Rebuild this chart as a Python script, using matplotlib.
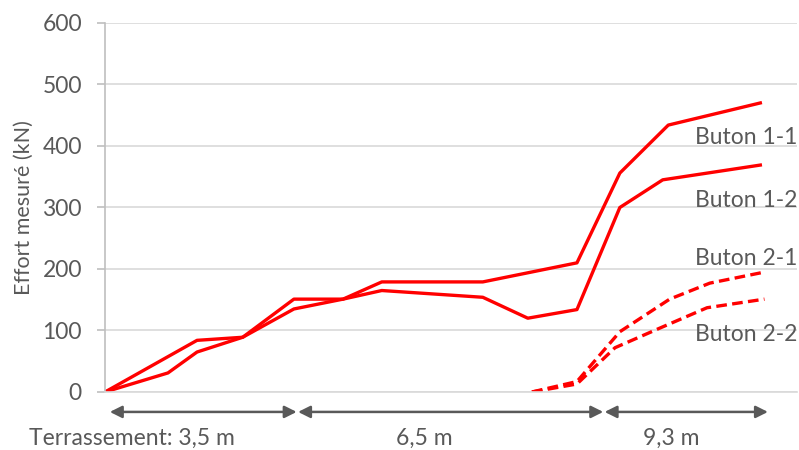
import matplotlib.pyplot as plt

# time axis (arbitrary units, 0-100) and measured forces (kN)
x_b11 = [0, 13.3, 19.9, 27.3, 34.4, 40.0, 54.6, 68.2, 74.4, 81.4, 94.7]
y_b11 = [0, 84, 89, 151, 151, 179, 179, 210, 356, 434, 470]

x_b12 = [0, 9.1, 13.3, 19.9, 27.3, 34.4, 40.0, 54.6, 61.1, 68.2, 74.4, 80.6, 94.7]
y_b12 = [0, 31, 65, 89, 135, 151, 165, 154, 120, 134, 300, 345, 369]

x_b21 = [61.7, 68.2, 74.4, 81.6, 87.4, 95.3]
y_b21 = [0, 17, 98, 151, 177, 195]

x_b22 = [61.7, 68.2, 73.7, 80.2, 87.0, 95.3]
y_b22 = [0, 13, 72, 104, 137, 151]

labels = ['Buton 1-1', 'Buton 1-2', 'Buton 2-1', 'Buton 2-2']
label_y = [413, 312, 217, 94]

stages = ['Terrassement: 3,5 m', '6,5 m', '9,3 m']
stage_start = [0.7, 27.9, 72.2]
stage_end = [27.7, 72.0, 95.8]
stage_text_x = [3.9, 46.2, 81.8]

grey = '#595959'
red = '#ff0000'

plt.rcParams['font.family'] = ['Lato', 'DejaVu Sans']

fig = plt.figure(figsize=(7.99, 4.5), dpi=100)
ax = fig.add_axes([0.1314, 0.1289, 0.8661, 0.82])

ax.plot(x_b11, y_b11, color=red, lw=2.4)
ax.plot(x_b12, y_b12, color=red, lw=2.4)
ax.plot(x_b21, y_b21, color=red, lw=2.4, dashes=(3.2, 1.6))
ax.plot(x_b22, y_b22, color=red, lw=2.4, dashes=(3.2, 1.6))

for lab, ly in zip(labels, label_y):
    ax.text(100, ly, lab, ha='right', va='center', fontsize=16.5, color=grey)

ax.set_xlim(0, 100)
ax.set_ylim(0, 600)
ax.set_yticks(range(0, 601, 100))
ax.set_xticks([])
ax.yaxis.grid(True, color='#d9d9d9', lw=1.2)
ax.set_axisbelow(True)
for s in ['top', 'right']:
    ax.spines[s].set_visible(False)
ax.spines['bottom'].set_color('#d9d9d9')
ax.spines['bottom'].set_linewidth(1.2)
ax.spines['left'].set_color('#bfbfbf')
ax.spines['left'].set_linewidth(1.2)
ax.tick_params(axis='y', colors='#bfbfbf', labelcolor=grey, labelsize=16.5,
               length=5.8, width=1.2, pad=10.8)
ax.set_ylabel('Effort mesuré (kN)', fontsize=15.5, color=grey, labelpad=6)

trans = ax.get_xaxis_transform()
for name, x0, x1, tx in zip(stages, stage_start, stage_end, stage_text_x):
    ax.annotate('', xy=(x1, -0.054), xytext=(x0, -0.054), xycoords=trans,
                textcoords=trans, annotation_clip=False,
                arrowprops=dict(arrowstyle='<|-|>', color=grey, lw=1.8,
                                mutation_scale=18, shrinkA=0, shrinkB=0))
    ax.text(tx, -0.125, name, transform=trans, ha='center', va='center',
            fontsize=16.5, color=grey)

fig.savefig('out.png', dpi=100)
